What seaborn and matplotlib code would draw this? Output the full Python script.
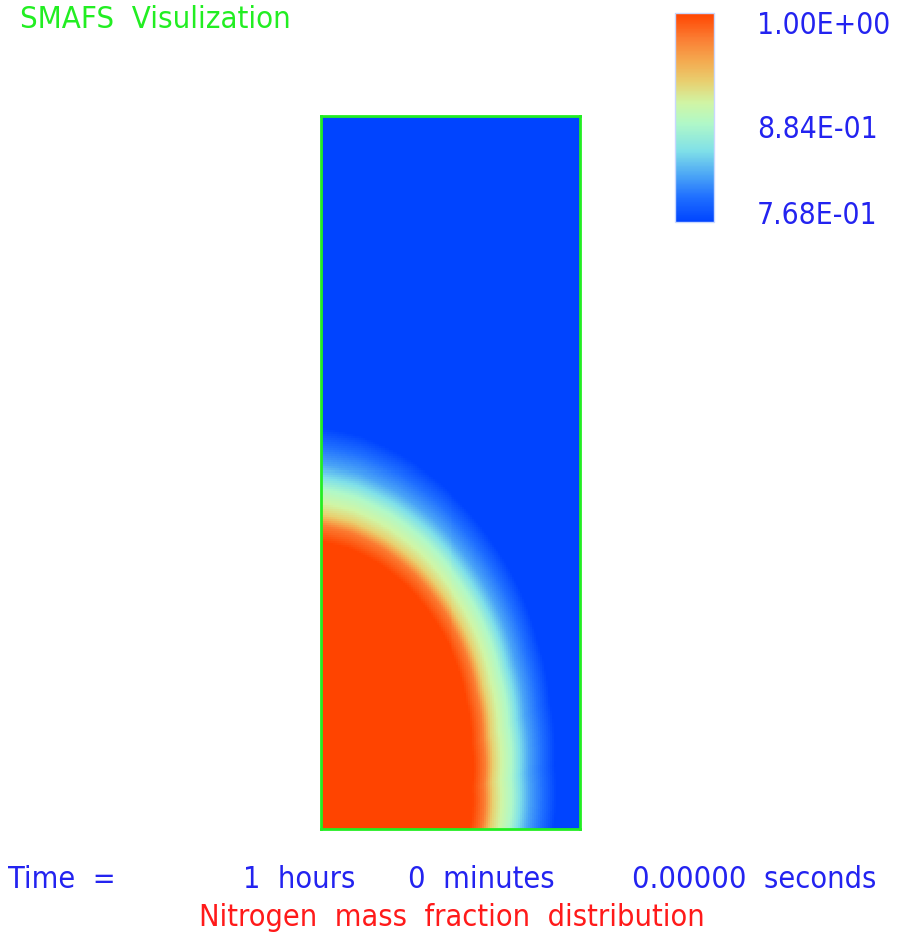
import numpy as np
import matplotlib
matplotlib.use("Agg")
import matplotlib.pyplot as plt
from matplotlib.colors import LinearSegmentedColormap
import seaborn as sns

# Domain size in mm (width x height), origin at the bottom-left corner
DOMAIN_W, DOMAIN_H = 25.9, 71.3

# Position of the diffusion front (0.90 iso-line): polar angle (deg) from the
# bottom-left corner and distance from that corner (mm)
FRONT_ANGLE = [0.0, 15.2, 29.1, 41.2, 50.7, 60.6, 70.1, 77.5, 84.1, 90.0]
FRONT_RADIUS = [17.8, 18.65, 20.37, 22.6, 24.8, 27.1, 29.36, 30.93, 32.07, 32.7]

# Mass fraction across the front: offset from the front (mm, at the
# bottom-row front radius) and nitrogen mass fraction
FRONT_OFFSET = [-30.0, -2.9, -1.7, -0.85, 0.0, 1.0, 1.85, 2.8, 4.1, 5.5, 40.0]
FRONT_FRACTION = [1.0, 1.0, 0.972, 0.923, 0.900, 0.877, 0.847, 0.819, 0.796,
                  0.768, 0.768]

VMIN, VMAX = 0.768, 1.0
CBAR_LABELS = ["1.00E+00", "8.84E-01", "7.68E-01"]

TITLE = "SMAFS  Visulization"
CAPTION = "Nitrogen  mass  fraction  distribution"
TIME_PARTS = ["Time  =", "1  hours", "0  minutes", "0.00000  seconds"]

NX, NY = 130, 356

sns.set_theme(style="white")
plt.rcParams["font.family"] = ["DejaVu Sans"]

cmap = LinearSegmentedColormap.from_list("smafs", [
    (0.00, "#0044ff"),
    (0.12, "#2070ff"),
    (0.22, "#4aa4f6"),
    (0.34, "#80e0e8"),
    (0.47, "#b0f8c8"),
    (0.57, "#d0f5a5"),
    (0.67, "#e8d070"),
    (0.77, "#f4aa50"),
    (0.88, "#fb7c32"),
    (1.00, "#ff4400"),
])

# cell centres, rows ordered top to bottom
xc = (np.arange(NX) + 0.5) / NX * DOMAIN_W
yc = DOMAIN_H - (np.arange(NY) + 0.5) / NY * DOMAIN_H
X, Y = np.meshgrid(xc, yc)
dist = np.hypot(X, Y)
theta = np.degrees(np.arctan2(Y, X))
front = np.interp(theta, FRONT_ANGLE, FRONT_RADIUS)
# the front broadens with distance travelled
offset = (dist - front) / np.sqrt(front / FRONT_RADIUS[0])
field = np.interp(offset, FRONT_OFFSET, FRONT_FRACTION)

fig = plt.figure(figsize=(9.0, 9.39), dpi=100)
W, H = 900.0, 939.0


def box(x0, y0, x1, y1):
    return [x0 / W, 1 - y1 / H, (x1 - x0) / W, (y1 - y0) / H]


ax = fig.add_axes(box(321, 116, 580, 829))
cax = fig.add_axes(box(675, 13, 714, 222))

sns.heatmap(field, ax=ax, cmap=cmap, vmin=VMIN, vmax=VMAX,
            xticklabels=False, yticklabels=False,
            cbar=True, cbar_ax=cax, rasterized=True)
ax.set_xticks([])
ax.set_yticks([])
for sp in ax.spines.values():
    sp.set_visible(True)
    sp.set_color("#22ee22")
    sp.set_linewidth(2.0)

cbar = ax.collections[0].colorbar
cbar.set_ticks([])
cbar.outline.set_edgecolor("#c8d8ff")
cbar.outline.set_linewidth(1.0)
cax.tick_params(length=0)

txt = dict(fontstretch="condensed")
blue = "#2323f0"
for lbl, yy in zip(CBAR_LABELS, [25, 130, 215]):
    fig.text(757 / W, 1 - yy / H, lbl, color=blue, fontsize=21.5,
             ha="left", va="center", **txt)

fig.text(20 / W, 1 - 19 / H, TITLE, color="#22ee22", fontsize=22.3,
         ha="left", va="center", **txt)

for part, xx in zip(TIME_PARTS, [8, 243, 408, 632]):
    fig.text(xx / W, 1 - 880 / H, part, color=blue, fontsize=22,
             ha="left", va="center", **txt)

fig.text(452 / W, 1 - 917 / H, CAPTION, color="#ff1a1a", fontsize=22,
         ha="center", va="center", **txt)

fig.savefig("out.png", dpi=100, facecolor="white")
